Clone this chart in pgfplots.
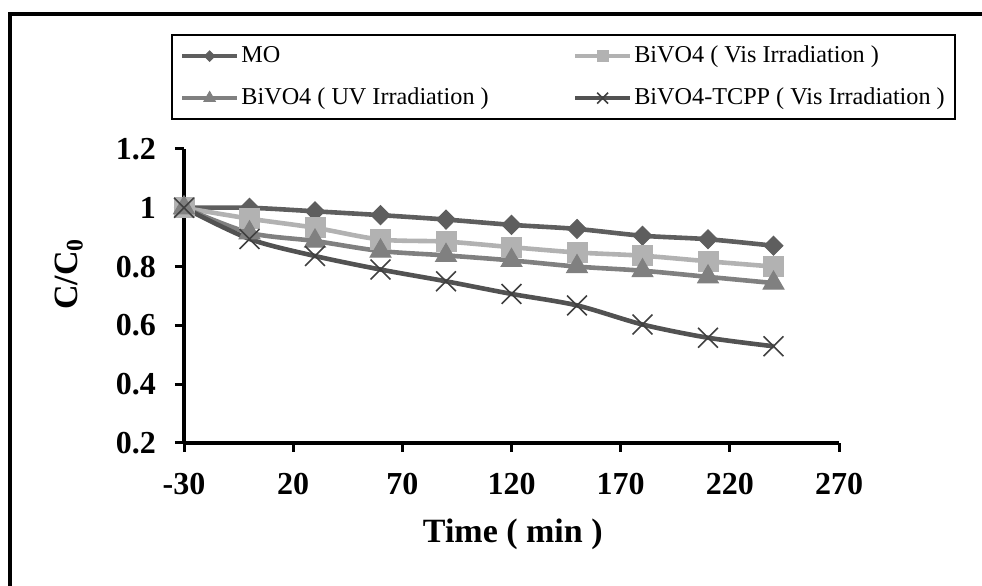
\documentclass[border=0pt]{standalone}
\usepackage{fontspec}
\setmainfont{Liberation Serif}
\usepackage{pgfplots}
\pgfplotsset{compat=1.18}
\usetikzlibrary{calc}
\definecolor{cMO}{HTML}{5E5E5E}
\definecolor{cVis}{HTML}{B2B2B2}
\definecolor{cUV}{HTML}{808080}
\definecolor{cTC}{HTML}{525252}
\definecolor{cX}{HTML}{404040}

\begin{document}
\begin{tikzpicture}
\begin{axis}[
  scale only axis, width=327.5pt, height=147pt,
  xmin=-30, xmax=270, ymin=0.2, ymax=1.2,
  xtick={-30,20,70,120,170,220,270},
  xticklabels={-30,20,70,120,170,220,270},
  ytick={0.2,0.4,0.6,0.8,1,1.2},
  yticklabels={0.2,0.4,0.6,0.8,1,1.2},
  axis x line*=bottom, axis y line*=left,
  axis line style={line width=2pt},
  tick style={line width=1.5pt, black},
  tick align=outside, major tick length=4.5pt,
  ticklabel style={font=\fontsize{16}{19}\selectfont\bfseries},
  xticklabel style={yshift=-7pt},
  yticklabel style={xshift=-6pt},
  xlabel={Time ( min )},
  ylabel={C/C\textsubscript{0}},
  label style={font=\fontsize{17}{20}\selectfont\bfseries},
  xlabel style={at={(axis description cs:0.502,-0.31)}, anchor=center},
  ylabel style={at={(axis description cs:-0.1756,0.575)}, anchor=center},
  clip=false,
  legend columns=2,
  legend cell align=left,
  legend style={at={(axis description cs:-0.0198,1.39)}, anchor=north west,
    draw=black, line width=0.8pt, inner xsep=4pt, inner ysep=3.5pt,
    font=\fontsize{12.1}{14}\selectfont, row sep=7pt, column sep=0pt,
    nodes={inner sep=1pt, text height=9pt, text depth=3pt},
    /tikz/every even column/.append style={column sep=41pt}},
  legend image code/.code={
    \draw[every mark/.append style={scale=0.55}, mark repeat=2, mark phase=2]
      plot coordinates {(0pt,0pt) (13.75pt,0pt) (27.5pt,0pt)};
  },
  every axis plot/.append style={line width=2.3pt, smooth},
]
\addplot[cMO, mark=diamond*, mark size=4.75pt, mark options={xscale=1.33, fill=cMO, draw=cMO, line width=0.5pt}]
  coordinates {(-30,1.0)(0,1.0)(30,0.988)(60,0.975)(90,0.96)(120,0.942)(150,0.928)(180,0.905)(210,0.893)(240,0.871)};
\addplot[cVis, mark=square*, mark size=5pt, mark options={fill=cVis, draw=cVis, line width=0.5pt}]
  coordinates {(-30,1.0)(0,0.963)(30,0.932)(60,0.892)(90,0.885)(120,0.866)(150,0.848)(180,0.837)(210,0.818)(240,0.80)};
\addplot[cUV, mark=triangle*, mark size=6pt, mark options={fill=cUV, draw=cUV, line width=0.5pt}]
  coordinates {(-30,1.0)(0,0.915)(30,0.887)(60,0.853)(90,0.838)(120,0.821)(150,0.80)(180,0.786)(210,0.765)(240,0.744)};
\addplot[cTC, mark=x, mark size=7pt, mark options={draw=cX, line width=0.8pt}]
  coordinates {(-30,1.0)(0,0.894)(30,0.836)(60,0.79)(90,0.75)(120,0.707)(150,0.668)(180,0.603)(210,0.558)(240,0.529)};
\legend{MO, BiVO4 ( Vis Irradiation ), BiVO4 ( UV Irradiation ), BiVO4-TCPP ( Vis Irradiation )}
\coordinate (sw) at (rel axis cs:0,0);
\coordinate (ne) at (rel axis cs:1,1);
\end{axis}
\coordinate (BL) at ($(sw)+(-92pt,-71.5pt)$);
\coordinate (TR) at ($(ne)+(71.5pt,74.5pt)$);
\draw[line width=2pt] ($(BL)+(5pt,0)$) |- ($(TR)+(0,-7pt)$);
\pgfresetboundingbox
\path (BL) rectangle (TR);
\end{tikzpicture}
\end{document}
